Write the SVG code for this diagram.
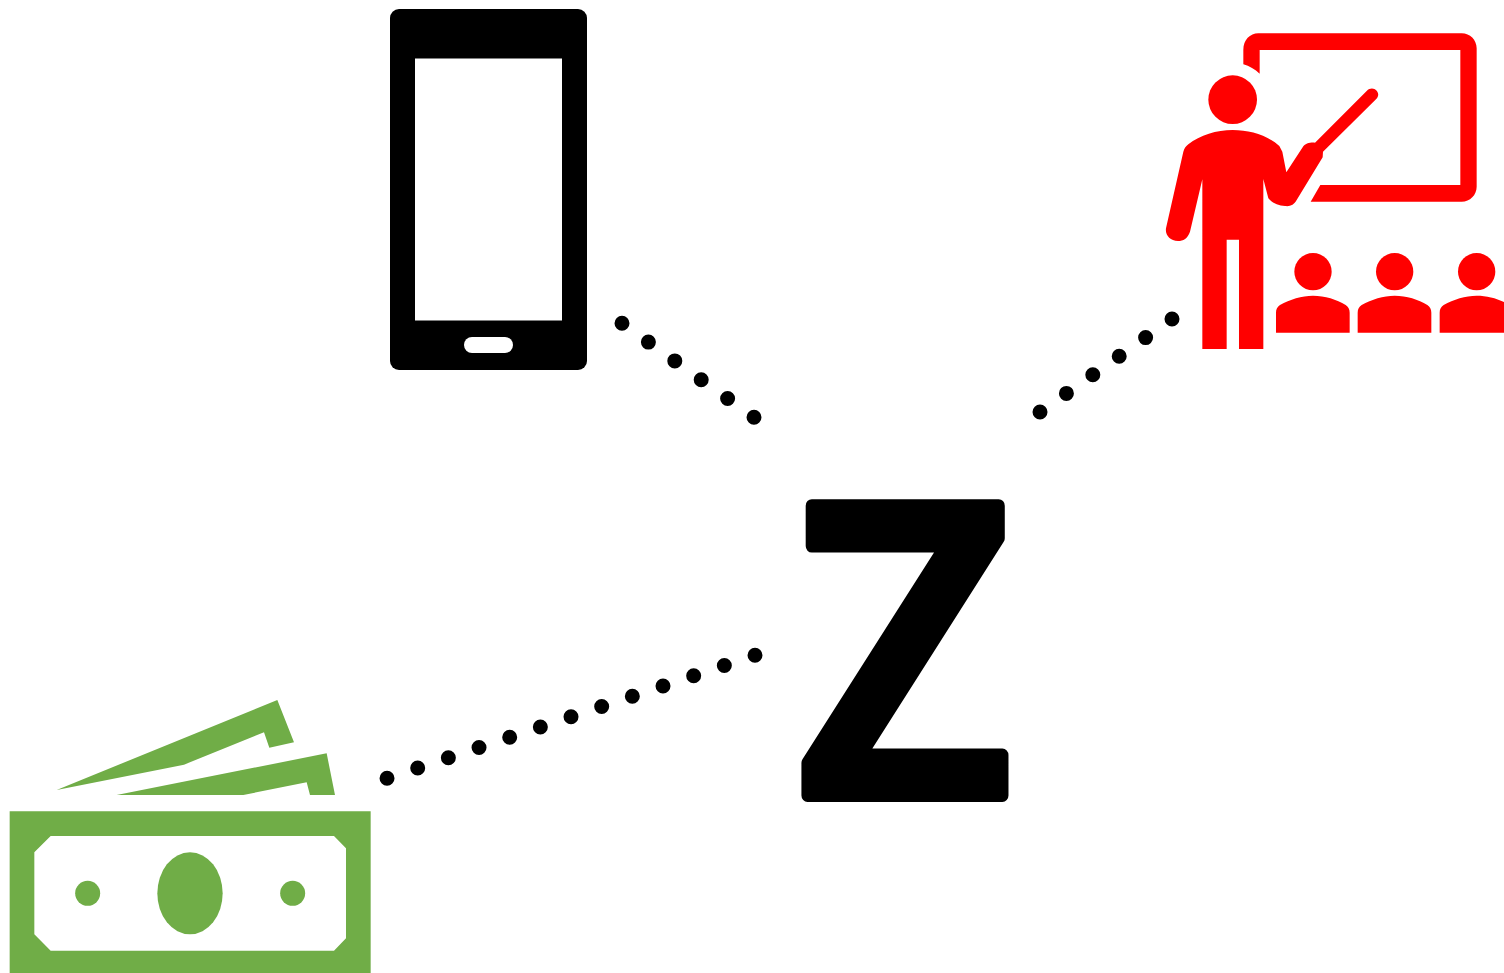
<svg xmlns="http://www.w3.org/2000/svg" xmlns:xlink="http://www.w3.org/1999/xlink" width="1504" height="973" viewBox="0 0 1504 973">
<style>
.dots{fill:none;stroke:#000;stroke-width:15;stroke-linecap:round}
.red{fill:#f00}
.green{fill:#70ad47}
.z{font-family:"Open Sans","Liberation Sans",sans-serif;font-weight:600;font-size:406px;fill:#000;stroke:#000;stroke-width:13px;stroke-linejoin:round}
</style>
<defs>
<g id="student">
<circle cx="489" cy="755" r="56"/>
<path d="M378,938V878C378,868 382,860 390,855C420,838 455,827 489,827C525,827 560,838 587,855C595,860 599,868 599,878V938Z"/>
</g>
</defs>
<rect width="1504" height="973" fill="#fff"/>
<g id="connectors">
<path class="dots" stroke-dasharray="0 32.41" d="M622,323.3L755,418"/>
<path class="dots" stroke-dasharray="0 32.29" d="M1172,319L1039,412.7"/>
<path class="dots" stroke-dasharray="0 32.33" d="M755,655.3L386,778.6"/>
</g>
<g id="phone">
<rect x="390" y="9" width="197" height="361" rx="9" fill="#000"/>
<rect x="415" y="58.500" width="147" height="262" fill="#fff"/>
<rect x="464" y="337" width="49" height="16" rx="8" fill="#fff"/>
</g>
<g id="presenter" class="red" transform="translate(1150 20) scale(.33333)">
<path d="M280,133V90C280,60 300,40 325,40H935C960,40 980,60 980,85V500C980,525 960,545 935,545H482L511,495H931V90H329V161C315,148 298,138 280,133Z"/>
<circle cx="248" cy="239" r="73"/>
<path d="M248,330C300,330 350,345 388,378L397,395L409,457L458,382C465,370 480,367 495,368L650,213C660,203 672,204 680,212C687,220 686,230 678,238L519,395L518,412L440,540C432,555 420,560 405,558C385,556 365,548 355,535L340,477V987H267V659H230V987H157V478L120,635C113,655 100,663 84,663C60,663 45,645 48,625L100,395C103,385 108,378 115,373C150,345 200,330 248,330Z"/>
<use xlink:href="#student" href="#student"/>
<use xlink:href="#student" href="#student" x="245"/>
<use xlink:href="#student" href="#student" x="491"/>
</g>
<g id="money" class="green" transform="translate(0 690) scale(.33333)">
<path d="M170,300L832,30L882,157L808,173L792,127L552,224Z"/>
<path d="M350,315L980,190L1005,315L930,315L920,277L730,315Z"/>
<path fill-rule="evenodd" d="M29,364H1112V850H29ZM152,438L103,487V733L152,782H1002L1038,745V475L1002,438Z"/>
<ellipse cx="570" cy="610" rx="98" ry="123"/>
<circle cx="263" cy="610" r="37.5"/>
<circle cx="878" cy="610" r="37.5"/>
</g>
<g id="z-node">
<text class="z" transform="translate(905 795.500) scale(.935 1)" text-anchor="middle">Z</text>
</g>
</svg>
